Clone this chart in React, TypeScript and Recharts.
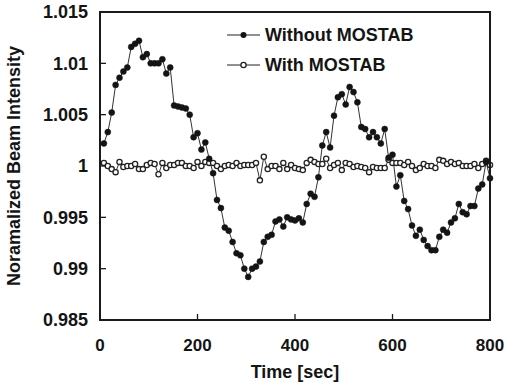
import React from "react";
import { LineChart, Line, XAxis, YAxis } from "recharts";

// time stamps [sec]
const times = [
  8, 16, 24, 32, 40, 48, 56, 64, 72, 80,
  88, 96, 104, 112, 120, 128, 136, 144, 152, 160,
  168, 176, 184, 192, 200, 208, 216, 224, 232, 240,
  248, 256, 264, 272, 280, 288, 296, 304, 312, 320,
  328, 336, 344, 352, 360, 368, 376, 384, 392, 400,
  408, 416, 424, 432, 440, 448, 456, 464, 472, 480,
  488, 496, 504, 512, 520, 528, 536, 544, 552, 560,
  568, 576, 584, 592, 600, 608, 616, 624, 632, 640,
  648, 656, 664, 672, 680, 688, 696, 704, 712, 720,
  728, 736, 744, 752, 760, 768, 776, 784, 792, 800,
];

const withoutMostab = [
  1.0022, 1.0033, 1.0052, 1.0079, 1.0086, 1.0092, 1.0096, 1.0116, 1.0119, 1.0122,
  1.0106, 1.0109, 1.01, 1.01, 1.01, 1.0104, 1.009, 1.0096, 1.0059, 1.0058,
  1.0057, 1.0056, 1.005, 1.0028, 1.0032, 1.0016, 1.0023, 1.0007, 0.9993, 0.9967,
  0.9959, 0.994, 0.9937, 0.9926, 0.9915, 0.9913, 0.99, 0.9892, 0.99, 0.9902,
  0.9907, 0.9926, 0.9931, 0.9933, 0.9946, 0.9948, 0.9941, 0.995, 0.9948, 0.9947,
  0.9949, 0.9945, 0.9963, 0.9973, 0.997, 0.9989, 1.002, 1.0033, 1.0018, 1.0049,
  1.0067, 1.007, 1.006, 1.0077, 1.0072, 1.0062, 1.0038, 1.0036, 1.0028, 1.0033,
  1.0028, 1.0022, 1.0036, 1.0008, 1.0011, 0.998, 0.9991, 0.9966, 0.9958, 0.9942,
  0.9932, 0.9938, 0.9928, 0.9922, 0.9918, 0.9918, 0.9931, 0.9938, 0.9935, 0.9945,
  0.9949, 0.9963, 0.9955, 0.9953, 0.9961, 0.9961, 0.9978, 0.9982, 1.0004, 0.9988,
];

const withMostab = [
  1.0003, 1.0, 0.9997, 0.9994, 1.0004, 0.9999, 1.0, 1.0, 1.0002, 0.9997,
  0.9997, 1.0001, 1.0003, 1.0002, 0.9992, 1.0003, 0.9998, 1.0001, 1.0001, 1.0003,
  1.0003, 1.0, 1.0, 0.9998, 1.0004, 1.0, 1.0004, 1.0003, 1.0003, 1.0,
  0.9997, 1.0, 1.0001, 1.0, 1.0003, 1.0, 1.0001, 1.0001, 1.0001, 1.0003,
  0.9986, 1.0009, 0.9997, 1.0, 1.0, 0.9997, 1.0003, 0.9997, 1.0001, 0.9998,
  0.9997, 0.9996, 1.0003, 1.0006, 1.0004, 1.0002, 1.0002, 1.0007, 0.9998, 1.0001,
  1.0003, 0.9996, 1.0003, 1.0002, 0.9999, 1.0, 0.9999, 0.9998, 0.9994, 0.9999,
  0.9998, 0.9998, 0.9998, 1.0006, 1.0003, 1.0003, 1.0003, 1.0001, 1.0004, 1.0,
  0.9996, 0.9998, 1.0002, 1.0, 1.0, 0.9998, 1.0006, 1.0005, 1.0002, 1.0004,
  1.0002, 1.0003, 1.0, 1.0, 1.0, 1.0002, 0.9998, 1.0002, 1.0005, 1.0001,
];

const xTicks = [0, 200, 400, 600, 800];
const yTicks = [0.985, 0.99, 0.995, 1, 1.005, 1.01, 1.015];
const seriesNames = ["Without MOSTAB", "With MOSTAB"];

const data = times.map((t, i) => ({
  t,
  without: withoutMostab[i],
  with: withMostab[i],
}));

const FONT = "'Liberation Sans', Arial, sans-serif";
const INK = "#141414";

// chart geometry (plot box = width - margins)
const W = 513;
const H = 387;
const M = { top: 12, right: 23, bottom: 7, left: 0 };
const Y_AXIS_W = 100;
const X_AXIS_H = 60;
const plot = {
  left: M.left + Y_AXIS_W,
  right: W - M.right,
  top: M.top,
  bottom: H - M.bottom - X_AXIS_H,
};
const xDomain = [0, 800];
const yDomain = [0.985, 1.015];

const YTick = ({ x, y, payload }: any) => (
  <text x={x} y={y} dy={6.4} textAnchor="end" fontSize={18} fontWeight="bold" fontFamily={FONT} fill={INK}>
    {String(payload.value)}
  </text>
);

const XTick = ({ x, y, payload }: any) => (
  <text x={x} y={y} textAnchor="middle" fontSize={17} fontWeight="bold" fontFamily={FONT} fill={INK}>
    {String(payload.value)}
  </text>
);

// frame + inward tick marks, drawn on top of the chart
const Frame = () => {
  const sx = (v: number) =>
    plot.left + ((v - xDomain[0]) / (xDomain[1] - xDomain[0])) * (plot.right - plot.left);
  const sy = (v: number) =>
    plot.bottom - ((v - yDomain[0]) / (yDomain[1] - yDomain[0])) * (plot.bottom - plot.top);
  return (
    <svg width={W} height={H} style={{ position: "absolute", left: 0, top: 0, pointerEvents: "none" }}>
      <path
        d={`M${plot.left},${plot.top}H${plot.right}V${plot.bottom}H${plot.left}Z`}
        fill="none"
        stroke="#1a1a1a"
        strokeWidth={2}
      />
      {xTicks.slice(1, -1).map((v) => (
        <path key={v} d={`M${sx(v)},${plot.bottom}v-6`} stroke="#1a1a1a" strokeWidth={1.3} />
      ))}
      {yTicks.slice(1, -1).map((v) => (
        <path key={v} d={`M${plot.left},${sy(v)}h6`} stroke="#1a1a1a" strokeWidth={1.3} />
      ))}
    </svg>
  );
};

const ChartLegend = () => (
  <svg width={200} height={60} style={{ position: "absolute", left: 222, top: 20 }}>
    {seriesNames.map((name, i) => (
      <g key={name} transform={`translate(0, ${i * 30})`}>
        <path d="M5,15H38" stroke="#222" strokeWidth={1.2} fill="none" />
        {i === 0 ? (
          <circle cx={21.5} cy={15} r={3} fill={INK} />
        ) : (
          <circle cx={21.5} cy={15} r={2.6} fill="#fff" stroke="#222" strokeWidth={1.3} />
        )}
        <text x={43} y={21.4} fontSize={18} fontWeight="bold" fontFamily={FONT} fill={INK}>
          {name}
        </text>
      </g>
    ))}
  </svg>
);

export default function App() {
  return (
    <div style={{ position: "absolute", left: 0, top: 0, width: W, height: H, background: "#fff" }}>
      <LineChart width={W} height={H} data={data} margin={M}>
        <XAxis
          dataKey="t"
          type="number"
          domain={xDomain}
          ticks={xTicks}
          axisLine={false}
          tickLine={false}
          tickSize={0}
          tickMargin={31}
          height={X_AXIS_H}
          tick={<XTick />}
          interval={0}
          label={{
            value: "Time [sec]",
            position: "insideBottom",
            offset: 2,
            fontSize: 18,
            fontWeight: "bold",
            fontFamily: FONT,
            fill: INK,
          }}
        />
        <YAxis
          type="number"
          domain={yDomain}
          ticks={yTicks}
          axisLine={false}
          tickLine={false}
          tickSize={0}
          tickMargin={12}
          width={Y_AXIS_W}
          tick={<YTick />}
          interval={0}
          label={{
            value: "Noramalized Beam Intensity",
            angle: -90,
            position: "insideLeft",
            offset: 14,
            fontSize: 18,
            fontWeight: "bold",
            fontFamily: FONT,
            fill: INK,
            style: { textAnchor: "middle" },
          }}
        />
        <Line
          dataKey="with"
          name="With MOSTAB"
          stroke="#333"
          strokeWidth={1}
          dot={{ r: 2.6, fill: "#fff", stroke: "#222", strokeWidth: 1.3 }}
          isAnimationActive={false}
        />
        <Line
          dataKey="without"
          name="Without MOSTAB"
          stroke="#333"
          strokeWidth={1}
          dot={{ r: 3, fill: INK, stroke: INK, strokeWidth: 0.5 }}
          isAnimationActive={false}
        />
      </LineChart>
      <Frame />
      <ChartLegend />
    </div>
  );
}
